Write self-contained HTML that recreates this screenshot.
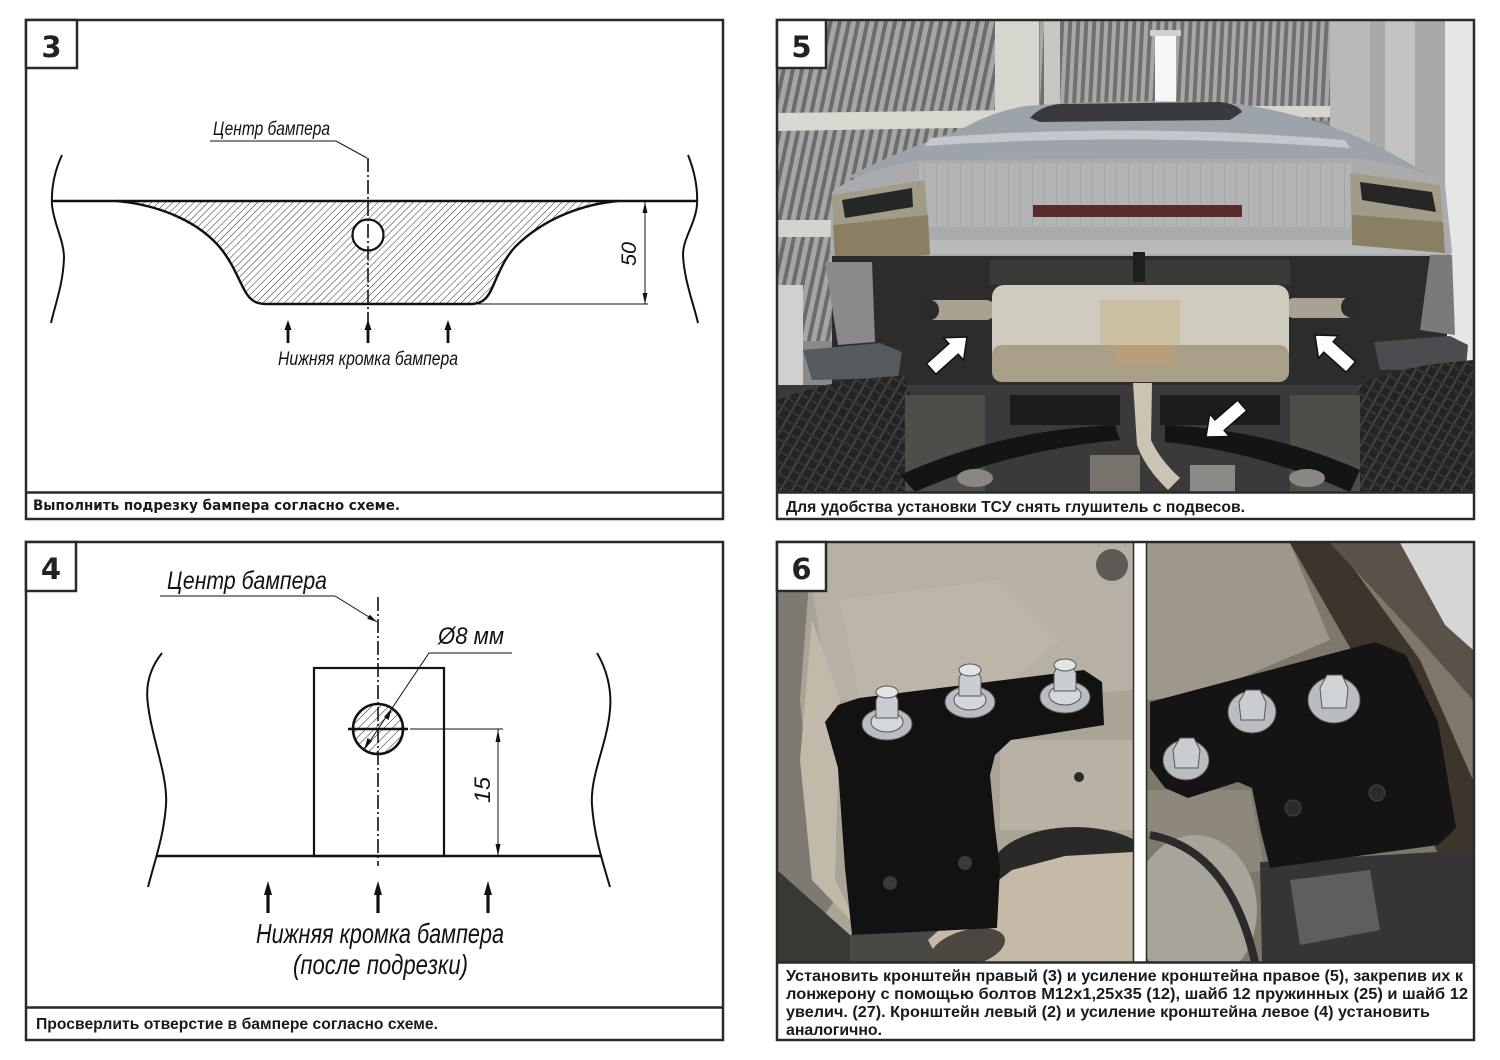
<!DOCTYPE html>
<html><head><meta charset="utf-8">
<style>
html,body{margin:0;padding:0;background:#fff;}
svg{display:block;}
.g{font-family:"Liberation Sans Narrow","Liberation Sans",sans-serif;font-style:italic;fill:#111;}
.cap{font-family:"Liberation Sans",sans-serif;font-weight:bold;fill:#1a1a1a;}
.cap3{font-family:"DejaVu Sans","Liberation Sans",sans-serif;font-weight:bold;fill:#1a1a1a;}
.num{font-family:"DejaVu Sans","Liberation Sans",sans-serif;font-weight:bold;fill:#222;}
</style></head><body>
<svg width="1500" height="1060" viewBox="0 0 1500 1060" xmlns="http://www.w3.org/2000/svg">
<defs>
  <pattern id="hatch" patternUnits="userSpaceOnUse" width="5" height="5" patternTransform="rotate(45)">
    <line x1="0" y1="0" x2="0" y2="5" stroke="#111" stroke-width="0.9"/>
  </pattern>
  <pattern id="hatch2" patternUnits="userSpaceOnUse" width="6" height="6" patternTransform="rotate(45)">
    <line x1="0" y1="0" x2="0" y2="6" stroke="#111" stroke-width="0.9"/>
  </pattern>
  <pattern id="ceil" patternUnits="userSpaceOnUse" width="9" height="9" patternTransform="rotate(12)">
    <rect x="0" y="0" width="9" height="9" fill="#6c6c6c"/>
    <rect x="0" y="0" width="5" height="9" fill="#a6a6a6"/>
  </pattern>
  <pattern id="ceil2" patternUnits="userSpaceOnUse" width="8" height="8" patternTransform="rotate(3)">
    <rect x="0" y="0" width="8" height="8" fill="#707070"/>
    <rect x="0" y="0" width="4" height="8" fill="#a8a8a8"/>
  </pattern>
  <pattern id="tread" patternUnits="userSpaceOnUse" width="10" height="10" patternTransform="rotate(30)">
    <rect x="0" y="0" width="10" height="10" fill="#242424"/>
    <rect x="0" y="0" width="2" height="10" fill="#444"/>
    <rect x="0" y="0" width="10" height="2" fill="#363636"/>
  </pattern>
  <pattern id="ribs" patternUnits="userSpaceOnUse" width="12" height="12">
    <rect x="0" y="0" width="12" height="12" fill="#b3b4b5"/>
    <rect x="0" y="0" width="1" height="12" fill="#a4a5a7"/>
  </pattern>
  <clipPath id="c3"><path d="M117,201 L618,201 C585,204 540,218 512,250 C502,262 498,275 494,284 C489,297 482,303 473,304 L267,304 C256,303 249,296 243,286 C232,262 218,240 192,226 C165,211 140,203 117,201 Z"/></clipPath>
  <clipPath id="c4"><circle cx="378" cy="729" r="25"/></clipPath>
  <clipPath id="c5"><rect x="777" y="21" width="697" height="471"/></clipPath>
  <clipPath id="c6a"><rect x="777" y="543" width="356" height="419"/></clipPath>
  <clipPath id="c6b"><rect x="1147" y="543" width="326" height="419"/></clipPath>
</defs>

<rect x="0" y="0" width="1500" height="1060" fill="#fff"/>

<!-- ================= PANEL 3 ================= -->
<g>
  <rect x="117" y="200" width="510" height="106" fill="url(#hatch)" clip-path="url(#c3)"/>
  <circle cx="368" cy="235" r="15.5" fill="#fff" stroke="#111" stroke-width="2.2"/>
  <line x1="52" y1="201" x2="697" y2="201" stroke="#111" stroke-width="2.4"/>
  <path d="M117,201 C160,205 200,222 222,250 C236,268 242,290 250,298 C255,303 260,304 267,304 L473,304 C483,303 488,298 493,286 C500,270 505,258 515,247 C545,217 585,204 618,201" fill="none" stroke="#111" stroke-width="2.4"/>
  <line x1="473" y1="304" x2="648" y2="304" stroke="#111" stroke-width="1"/>
  <path d="M62,155 C56,168 51,185 52,205 C54,225 64,240 64,258 C63,285 55,305 51,323" fill="none" stroke="#111" stroke-width="2"/>
  <path d="M688,155 C694,170 698,188 697,205 C695,225 683,238 683,255 C684,280 694,305 698,323" fill="none" stroke="#111" stroke-width="2"/>
  <line x1="368" y1="158" x2="368" y2="332" stroke="#111" stroke-width="1.6" stroke-dasharray="14 3 2 3"/>
  <polyline points="210,141 336,141 367,158" fill="none" stroke="#111" stroke-width="1"/>
  <text class="g" x="213" y="135" font-size="19" textLength="117" lengthAdjust="spacingAndGlyphs">Центр бампера</text>
  <line x1="645" y1="202" x2="645" y2="304" stroke="#111" stroke-width="1"/>
  <polygon points="645,202 642.5,213 647.5,213" fill="#111"/>
  <polygon points="645,304 642.5,293 647.5,293" fill="#111"/>
  <text class="g" x="0" y="0" font-size="21" transform="translate(636,266) rotate(-90)" textLength="24" lengthAdjust="spacingAndGlyphs">50</text>
  <g fill="#111">
    <polygon points="288,320 284.5,330 291.5,330"/><rect x="286.6" y="329" width="2.8" height="14"/>
    <polygon points="368,320 364.5,330 371.5,330"/><rect x="366.6" y="329" width="2.8" height="14"/>
    <polygon points="448,320 444.5,330 451.5,330"/><rect x="446.6" y="329" width="2.8" height="14"/>
  </g>
  <text class="g" x="278" y="365" font-size="19" textLength="180" lengthAdjust="spacingAndGlyphs">Нижняя кромка бампера</text>
  <rect x="26" y="20" width="697" height="499" fill="none" stroke="#2a2a2a" stroke-width="2.5"/>
  <line x1="26" y1="492.5" x2="723" y2="492.5" stroke="#2a2a2a" stroke-width="2.5"/>
  <text class="cap3" x="33" y="510" font-size="14" textLength="367" lengthAdjust="spacingAndGlyphs">Выполнить подрезку бампера согласно схеме.</text>
  <rect x="26" y="20" width="51" height="48" fill="#fff" stroke="#2a2a2a" stroke-width="2.5"/>
  <text class="num" x="51.5" y="57" font-size="29" text-anchor="middle">3</text>
</g>

<!-- ================= PANEL 4 ================= -->
<g>
  <text class="g" x="167" y="589" font-size="25" textLength="160" lengthAdjust="spacingAndGlyphs">Центр бампера</text>
  <polyline points="160,596 335,596 377,622" fill="none" stroke="#111" stroke-width="1"/>
  <polygon points="377,622 367.2,618.8 369.8,614.6" fill="#111"/>
  <rect x="314" y="668" width="130" height="188" fill="none" stroke="#111" stroke-width="2.2"/>
  <rect x="350" y="700" width="56" height="56" fill="url(#hatch2)" clip-path="url(#c4)"/>
  <circle cx="378" cy="729" r="25" fill="none" stroke="#111" stroke-width="2.6"/>
  <line x1="348" y1="729" x2="408" y2="729" stroke="#111" stroke-width="2.6"/>
  <line x1="378" y1="597" x2="378" y2="866" stroke="#111" stroke-width="1.6" stroke-dasharray="14 3 2 3"/>
  <polyline points="364,750 429,653 512,653" fill="none" stroke="#111" stroke-width="1"/>
  <polygon points="364,750 372,741 367.5,738" fill="#111"/>
  <polygon points="392,708 384,717 388.5,720" fill="#111"/>
  <text class="g" x="438" y="644" font-size="24" textLength="66" lengthAdjust="spacingAndGlyphs">Ø8 мм</text>
  <line x1="410" y1="729" x2="503" y2="729" stroke="#111" stroke-width="1"/>
  <line x1="498" y1="729" x2="498" y2="856" stroke="#111" stroke-width="1"/>
  <polygon points="498,730 495.5,742 500.5,742" fill="#111"/>
  <polygon points="498,856 495.5,844 500.5,844" fill="#111"/>
  <text class="g" x="0" y="0" font-size="22" transform="translate(490,803) rotate(-90)" textLength="26" lengthAdjust="spacingAndGlyphs">15</text>
  <line x1="157" y1="856" x2="602" y2="856" stroke="#111" stroke-width="2.4"/>
  <path d="M162,653 C150,668 145,685 148,705 C152,740 168,775 166,805 C164,835 155,860 148,887" fill="none" stroke="#111" stroke-width="2"/>
  <path d="M597,653 C606,668 612,688 610,710 C607,745 590,775 592,805 C594,835 602,860 610,887" fill="none" stroke="#111" stroke-width="2"/>
  <g fill="#111">
    <polygon points="268,881 264,895 272,895"/><rect x="266.4" y="894" width="3.2" height="19"/>
    <polygon points="378,881 374,895 382,895"/><rect x="376.4" y="894" width="3.2" height="19"/>
    <polygon points="488,881 484,895 492,895"/><rect x="486.4" y="894" width="3.2" height="19"/>
  </g>
  <text class="g" x="256" y="943" font-size="28" textLength="248" lengthAdjust="spacingAndGlyphs">Нижняя кромка бампера</text>
  <text class="g" x="293" y="974" font-size="28" textLength="175" lengthAdjust="spacingAndGlyphs">(после подрезки)</text>
  <rect x="26" y="542" width="697" height="498" fill="none" stroke="#2a2a2a" stroke-width="2.5"/>
  <line x1="26" y1="1007.5" x2="723" y2="1007.5" stroke="#2a2a2a" stroke-width="2.5"/>
  <text class="cap" x="36" y="1029" font-size="16" textLength="402" lengthAdjust="spacingAndGlyphs">Просверлить отверстие в бампере согласно схеме.</text>
  <rect x="26" y="542" width="50" height="49" fill="#fff" stroke="#2a2a2a" stroke-width="2.5"/>
  <text class="num" x="51" y="579" font-size="29" text-anchor="middle">4</text>
</g>

<!-- ================= PANEL 5 (photo) ================= -->
<g clip-path="url(#c5)">
  <rect x="777" y="21" width="697" height="471" fill="#8a8a8a"/>
  <rect x="777" y="21" width="230" height="320" fill="url(#ceil)"/>
  <rect x="1040" y="21" width="300" height="100" fill="url(#ceil2)"/>
  <rect x="995" y="21" width="44" height="96" fill="#d6d6ce"/>
  <rect x="1044" y="21" width="16" height="96" fill="#c8c8c0"/>
  <polygon points="777,113 1015,110 1015,127 777,131" fill="#d8d8d0"/>
  <polygon points="1222,106 1341,106 1341,117 1222,118" fill="#d6d6ce"/>
  <rect x="777" y="220" width="54" height="17" fill="#d4d4cc"/>
  <rect x="1155" y="35" width="21" height="70" fill="#f6f6f2"/>
  <rect x="1150" y="30" width="31" height="6" fill="#d0d0d0"/>
  <rect x="1330" y="21" width="40" height="150" fill="#b9b9b9"/>
  <rect x="1370" y="21" width="75" height="170" fill="#a9a9a9"/>
  <rect x="1385" y="21" width="30" height="170" fill="#c2c2c2"/>
  <rect x="1445" y="21" width="29" height="471" fill="#e6e6e4"/>
  <rect x="777" y="285" width="26" height="190" fill="#d0d0d0"/>
  <!-- car body -->
  <path d="M1026,106 Q1130,98 1240,104 Q1330,118 1400,158 L1430,175 L845,178 Q900,150 960,130 Q990,112 1026,106 Z" fill="#9da3ab"/>
  <path d="M1030,118 Q1040,106 1060,104 L1220,102 Q1238,104 1242,112 L1230,120 L1040,122 Z" fill="#3a3a3e"/>
  <path d="M930,138 Q1130,122 1345,140 L1350,148 Q1130,132 925,146 Z" fill="#c4c7cb"/>
  <path d="M832,192 Q860,170 920,160 L1352,158 Q1420,165 1445,185 L1452,252 Q1446,266 1420,264 L860,264 Q836,266 830,250 Z" fill="#a9abad"/>
  <rect x="919" y="163" width="433" height="64" fill="url(#ribs)"/>
  <rect x="845" y="240" width="600" height="14" fill="#b8b9ba"/>
  <polygon points="832,195 925,180 930,255 835,262" fill="#a19c88"/>
  <polygon points="833,225 928,215 930,255 835,262" fill="#8a7f62"/>
  <polygon points="842,200 912,188 913,207 845,218" fill="#262626"/>
  <polygon points="1350,173 1440,185 1445,253 1352,245" fill="#a19c88"/>
  <polygon points="1352,215 1443,222 1445,253 1352,245" fill="#8a7f62"/>
  <polygon points="1360,182 1432,192 1436,212 1362,200" fill="#262626"/>
  <rect x="1033" y="205" width="209" height="12" fill="#5a2c2c"/>
  <!-- underbody dark -->
  <rect x="832" y="256" width="615" height="134" fill="#2c2c2c"/>
  <rect x="990" y="260" width="300" height="25" fill="#3c3a38"/>
  <rect x="1133" y="252" width="12" height="30" fill="#1e1e1e"/>
  <polygon points="825,262 872,262 875,342 838,345" fill="#8a8a8c"/>
  <polygon points="803,350 880,343 902,352 898,378 812,380" fill="#555a5e"/>
  <polygon points="1430,255 1452,255 1455,335 1420,330" fill="#7a7a7c"/>
  <polygon points="1374,342 1450,336 1468,345 1466,368 1380,370" fill="#4c4c50"/>
  <rect x="925" y="300" width="70" height="20" rx="9" fill="#a9a292"/>
  <ellipse cx="930" cy="310" rx="9" ry="10" fill="#2a2a2a"/>
  <rect x="1285" y="298" width="70" height="20" rx="9" fill="#a9a292"/>
  <ellipse cx="1350" cy="307" rx="9" ry="10" fill="#2a2a2a"/>
  <!-- lower area -->
  <rect x="777" y="385" width="697" height="107" fill="#3a3a3a"/>
  <path d="M777,400 Q830,378 905,376 Q920,420 915,492 L777,492 Z" fill="url(#tread)"/>
  <path d="M1474,360 Q1400,365 1360,385 Q1345,440 1355,492 L1474,492 Z" fill="url(#tread)"/>
  <rect x="905" y="395" width="80" height="97" fill="#4e4d4a"/>
  <rect x="1290" y="395" width="70" height="97" fill="#4e4d4a"/>
  <path d="M900,475 Q1000,430 1115,425 L1120,440 Q1010,450 915,492 Z" fill="#141414"/>
  <path d="M1165,425 Q1270,430 1360,470 L1350,492 Q1260,452 1165,442 Z" fill="#141414"/>
  <ellipse cx="975" cy="478" rx="18" ry="9" fill="#8a8782"/>
  <ellipse cx="1307" cy="478" rx="18" ry="9" fill="#8a8782"/>
  <rect x="1010" y="395" width="110" height="30" fill="#1c1c1c"/>
  <rect x="1160" y="395" width="120" height="30" fill="#1c1c1c"/>
  <rect x="1090" y="455" width="50" height="37" fill="#77736c"/>
  <rect x="1190" y="465" width="45" height="27" fill="#8c8a86"/>
  <path d="M1133,383 L1152,383 L1151,440 Q1160,460 1180,478 L1168,490 Q1145,468 1137,445 Z" fill="#cbc4b4"/>
  <!-- muffler -->
  <rect x="992" y="285" width="297" height="97" rx="12" fill="#cfcbbe"/>
  <rect x="992" y="345" width="297" height="37" rx="10" fill="#a99f87"/>
  <rect x="1100" y="300" width="80" height="45" fill="#c8b890" opacity="0.6"/>
  <rect x="1115" y="345" width="60" height="20" fill="#c8a070" opacity="0.5"/>
  <g fill="#fff" stroke="#111" stroke-width="1.5">
    <polygon points="0,0 -18,-15 -18,-7 -48,-7 -48,7 -18,7 -18,15" transform="translate(967,337) rotate(-41.7)"/>
    <polygon points="0,0 -18,-15 -18,-7 -48,-7 -48,7 -18,7 -18,15" transform="translate(1315,335) rotate(-138.3)"/>
    <polygon points="0,0 -18,-15 -18,-7 -48,-7 -48,7 -18,7 -18,15" transform="translate(1206,437) rotate(138.9)"/>
  </g>
</g>
<rect x="777" y="492.5" width="697" height="26" fill="#fff"/>
<rect x="777" y="20" width="697" height="499" fill="none" stroke="#2a2a2a" stroke-width="2.5"/>
<line x1="777" y1="492.5" x2="1474" y2="492.5" stroke="#2a2a2a" stroke-width="2.5"/>
<text class="cap" x="786" y="512" font-size="16" textLength="459" lengthAdjust="spacingAndGlyphs">Для удобства установки ТСУ снять глушитель с подвесов.</text>
<rect x="777" y="20" width="49" height="48" fill="#fff" stroke="#2a2a2a" stroke-width="2.5"/>
<text class="num" x="801.5" y="57" font-size="29" text-anchor="middle">5</text>

<!-- ================= PANEL 6 (photos) ================= -->
<g clip-path="url(#c6a)">
  <rect x="777" y="543" width="356" height="419" fill="#aaa497"/>
  <polygon points="805,543 1133,543 1133,690 1010,700 830,700" fill="#b6b0a5"/>
  <polygon points="840,600 1000,580 1060,640 1000,690 860,700" fill="#bcb5a8"/>
  <polygon points="777,543 812,543 800,700 812,820 835,900 790,962 777,962" fill="#7e7a73"/>
  <polygon points="812,620 840,700 835,880 860,930 812,880 800,760" fill="#c1baab"/>
  <polygon points="777,870 850,935 930,962 777,962" fill="#3a3835"/>
  <rect x="1000" y="740" width="133" height="90" fill="#b9b2a4"/>
  <ellipse cx="1075" cy="872" rx="85" ry="45" fill="#2b2927"/>
  <polygon points="850,935 1000,925 1010,962 850,962" fill="#4a4845"/>
  <polygon points="928,940 970,902 1012,870 1065,856 1133,852 1133,962 940,962" fill="#c5baa7"/>
  <ellipse cx="968" cy="948" rx="38" ry="18" transform="rotate(-15 968 948)" fill="#4b4640"/>
  <circle cx="1112" cy="565" r="16" fill="#5e5a55"/>
  <circle cx="1079" cy="777" r="5" fill="#2a2a2a"/>
  <polygon points="838,705 859,698 1084,670 1102,682 1104,725 1011,740 995,755 990,775 995,828 1000,868 997,928 852,935 845,868 838,768 825,722" fill="#121212"/>
  <circle cx="965" cy="863" r="7" fill="#3a3a3a"/>
  <circle cx="890" cy="883" r="7" fill="#3a3a3a"/>
  <g stroke="#555" stroke-width="1">
    <ellipse cx="887" cy="724" rx="25" ry="16" fill="#b9bdc2"/>
    <ellipse cx="887" cy="722" rx="16" ry="10" fill="#d4d7db"/>
    <polygon points="876,718 876,700 881,690 893,690 898,700 898,718" fill="#c9ccd0"/>
    <ellipse cx="887" cy="692" rx="11" ry="6" fill="#e2e4e6"/>
    <ellipse cx="970" cy="702" rx="25" ry="16" fill="#b9bdc2"/>
    <ellipse cx="970" cy="700" rx="16" ry="10" fill="#d4d7db"/>
    <polygon points="959,696 959,678 964,668 976,668 981,678 981,696" fill="#c9ccd0"/>
    <ellipse cx="970" cy="670" rx="11" ry="6" fill="#e2e4e6"/>
    <ellipse cx="1065" cy="697" rx="25" ry="16" fill="#b9bdc2"/>
    <ellipse cx="1065" cy="695" rx="16" ry="10" fill="#d4d7db"/>
    <polygon points="1054,691 1054,673 1059,663 1071,663 1076,673 1076,691" fill="#c9ccd0"/>
    <ellipse cx="1065" cy="665" rx="11" ry="6" fill="#e2e4e6"/>
  </g>
</g>
<g clip-path="url(#c6b)">
  <rect x="1147" y="543" width="326" height="419" fill="#7e776b"/>
  <polygon points="1147,543 1290,543 1330,640 1200,695 1147,700" fill="#9e988c"/>
  <polygon points="1400,543 1473,543 1473,650 1445,625" fill="#d6d6d4"/>
  <polygon points="1290,543 1335,543 1420,660 1473,780 1473,900 1440,860 1380,700" fill="#3d352c"/>
  <polygon points="1330,543 1400,543 1445,625 1473,650 1473,700 1420,640" fill="#5a5248"/>
  <polygon points="1147,790 1250,790 1265,870 1200,880 1147,830" fill="#8e877b"/>
  <ellipse cx="1195" cy="910" rx="62" ry="75" fill="#a8a49a"/>
  <path d="M1150,835 Q1230,850 1255,962" fill="none" stroke="#2a2a2a" stroke-width="8"/>
  <polygon points="1260,862 1473,850 1473,962 1262,962" fill="#353535"/>
  <polygon points="1290,880 1370,870 1380,930 1300,945" fill="#5e5e5e"/>
  <polygon points="1150,702 1375,642 1406,655 1438,722 1456,828 1438,845 1270,868 1261,832 1252,788 1238,782 1188,798 1165,788 1150,768" fill="#141414"/>
  <circle cx="1293" cy="808" r="8" fill="#2c2c2c" stroke="#444"/>
  <circle cx="1377" cy="793" r="8" fill="#2c2c2c" stroke="#444"/>
  <g stroke="#555" stroke-width="1">
    <ellipse cx="1186" cy="760" rx="23" ry="20" fill="#b9bdc2"/>
    <polygon points="1175,768 1173,750 1180,738 1194,738 1200,750 1198,768" fill="#c9ccd0"/>
    <ellipse cx="1252" cy="712" rx="24" ry="21" fill="#b9bdc2"/>
    <polygon points="1241,720 1239,702 1246,690 1260,690 1266,702 1264,720" fill="#c9ccd0"/>
    <ellipse cx="1334" cy="700" rx="26" ry="23" fill="#b9bdc2"/>
    <polygon points="1322,708 1320,688 1327,675 1342,675 1348,688 1346,708" fill="#d0d3d6"/>
  </g>
</g>
<rect x="1133" y="543" width="14" height="419" fill="#fff"/>
<line x1="1133.5" y1="543" x2="1133.5" y2="962" stroke="#2a2a2a" stroke-width="1.5"/>
<line x1="1146.5" y1="543" x2="1146.5" y2="962" stroke="#2a2a2a" stroke-width="1.5"/>
<rect x="777" y="962" width="697" height="78" fill="#fff"/>
<rect x="777" y="542" width="697" height="498" fill="none" stroke="#2a2a2a" stroke-width="2.5"/>
<line x1="777" y1="962.5" x2="1474" y2="962.5" stroke="#2a2a2a" stroke-width="2.5"/>
<text class="cap" x="786" y="981" font-size="16" textLength="677" lengthAdjust="spacingAndGlyphs">Установить кронштейн правый (3) и усиление кронштейна правое (5), закрепив их к</text>
<text class="cap" x="786" y="999" font-size="16" textLength="682" lengthAdjust="spacingAndGlyphs">лонжерону с помощью болтов М12х1,25х35 (12), шайб 12 пружинных (25) и шайб 12</text>
<text class="cap" x="786" y="1017" font-size="16" textLength="644" lengthAdjust="spacingAndGlyphs">увелич. (27). Кронштейн левый (2) и усиление кронштейна левое (4) установить</text>
<text class="cap" x="786" y="1035" font-size="16" textLength="96" lengthAdjust="spacingAndGlyphs">аналогично.</text>
<rect x="777" y="542" width="49" height="49" fill="#fff" stroke="#2a2a2a" stroke-width="2.5"/>
<text class="num" x="801.5" y="579" font-size="29" text-anchor="middle">6</text>

</svg>
</body></html>
